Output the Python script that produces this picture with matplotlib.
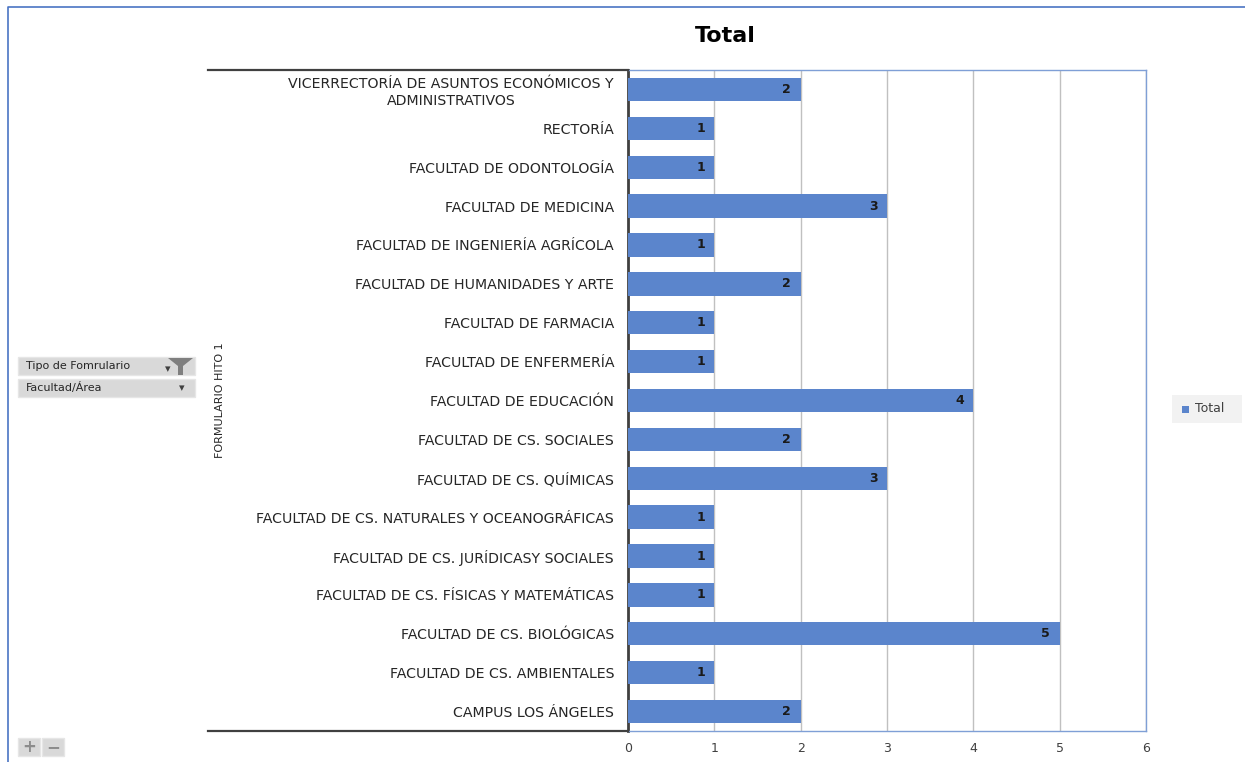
import matplotlib.pyplot as plt
from matplotlib.patches import Rectangle, Polygon
from matplotlib.lines import Line2D

categorias = [
    'VICERRECTORÍA DE ASUNTOS ECONÓMICOS Y\nADMINISTRATIVOS',
    'RECTORÍA',
    'FACULTAD DE ODONTOLOGÍA',
    'FACULTAD DE MEDICINA',
    'FACULTAD DE INGENIERÍA AGRÍCOLA',
    'FACULTAD DE HUMANIDADES Y ARTE',
    'FACULTAD DE FARMACIA',
    'FACULTAD DE ENFERMERÍA',
    'FACULTAD DE EDUCACIÓN',
    'FACULTAD DE CS. SOCIALES',
    'FACULTAD DE CS. QUÍMICAS',
    'FACULTAD DE CS. NATURALES Y OCEANOGRÁFICAS',
    'FACULTAD DE CS. JURÍDICASY SOCIALES',
    'FACULTAD DE CS. FÍSICAS Y MATEMÁTICAS',
    'FACULTAD DE CS. BIOLÓGICAS',
    'FACULTAD DE CS. AMBIENTALES',
    'CAMPUS LOS ÁNGELES',
]
totales = [2, 1, 1, 3, 1, 2, 1, 1, 4, 2, 3, 1, 1, 1, 5, 1, 2]
ticks_x = [0, 1, 2, 3, 4, 5, 6]

azul = '#5B85CC'
W, H = 1245, 762

fig = plt.figure(figsize=(12.45, 7.62), dpi=100)
ax = fig.add_axes([628 / W, 1 - 731 / H, (1146 - 628) / W, (731 - 70) / H])

y = list(range(len(categorias)))
ax.barh(y, totales, height=0.6, color=azul, zorder=3)
ax.set_ylim(len(categorias) - 0.5, -0.5)
ax.set_xlim(0, 6)
ax.set_xticks(ticks_x)
ax.set_yticks(y)
ax.set_yticklabels(categorias, fontsize=10.2, color='#262626', linespacing=1.25,
                   multialignment='center')
ax.tick_params(axis='y', length=0, pad=10)
ax.tick_params(axis='x', length=0, pad=8, labelsize=9, labelcolor='#404040')
ax.grid(axis='x', color='#c0c0c0', linewidth=1, zorder=0)

for yi, v in zip(y, totales):
    ax.text(v - 0.16, yi, str(v), ha='center', va='center', fontsize=9,
            fontweight='bold', color='#1a1a1a', zorder=4)

for lado in ['top', 'right', 'bottom']:
    ax.spines[lado].set_color('#7f9fd6')
    ax.spines[lado].set_linewidth(1)
ax.spines['left'].set_color('#404040')
ax.spines['left'].set_linewidth(2)

# marco de etiquetas
for yy in [70, 731]:
    fig.add_artist(Line2D([208 / W, 628 / W], [1 - yy / H, 1 - yy / H],
                          color='#404040', linewidth=1.6))

fig.text(725 / W, 1 - 36 / H, 'Total', ha='center', va='center',
         fontsize=16, fontweight='bold', color='black')
fig.text(220 / W, 1 - 400 / H, 'FORMULARIO HITO 1', rotation=90, ha='center',
         va='center', fontsize=8, color='#262626')

# botones de filtro
for yy, txt in [(357, 'Tipo de Fomrulario'), (379, 'Facultad/Área')]:
    fig.add_artist(Rectangle((18 / W, 1 - (yy + 18) / H), 177 / W, 18 / H,
                             facecolor='#d9d9d9', edgecolor='#e6e6e6',
                             transform=fig.transFigure))
    fig.text(26 / W, 1 - (yy + 9) / H, txt, ha='left', va='center',
             fontsize=8, color='#262626')
fig.text(168 / W, 1 - 369 / H, '▾', ha='center', va='center',
         fontsize=8, color='#404040')
fig.text(182 / W, 1 - 388 / H, '▾', ha='center', va='center',
         fontsize=8, color='#404040')
# embudo
fig.add_artist(Polygon([(168 / W, 1 - 358 / H), (193 / W, 1 - 358 / H),
                        (183 / W, 1 - 366 / H), (183 / W, 1 - 375 / H),
                        (178 / W, 1 - 375 / H), (178 / W, 1 - 366 / H)],
                       closed=True, facecolor='#7f7f7f', edgecolor='none',
                       transform=fig.transFigure))

# botones + y -
for xx, txt in [(18, '+'), (42, '−')]:
    fig.add_artist(Rectangle((xx / W, 1 - 756 / H), 22 / W, 18 / H,
                             facecolor='#d9d9d9', edgecolor='#e6e6e6',
                             transform=fig.transFigure))
    fig.text((xx + 11) / W, 1 - 747 / H, txt, ha='center', va='center',
             fontsize=12, fontweight='bold', color='#8c8c8c')

# leyenda
fig.add_artist(Rectangle((1172 / W, 1 - 423 / H), 70 / W, 28 / H,
                         facecolor='#f2f2f2', edgecolor='none',
                         transform=fig.transFigure))
fig.add_artist(Rectangle((1182 / W, 1 - 413 / H), 7 / W, 7 / H,
                         facecolor=azul, edgecolor='none',
                         transform=fig.transFigure))
fig.text(1195 / W, 1 - 409 / H, 'Total', ha='left', va='center',
         fontsize=9, color='#404040')

# borde del gráfico
fig.add_artist(Line2D([8 / W, 8 / W, 1], [0, 1 - 7 / H, 1 - 7 / H],
                      color='#4a74c4', linewidth=1.2))

fig.savefig('out.png', dpi=100)
